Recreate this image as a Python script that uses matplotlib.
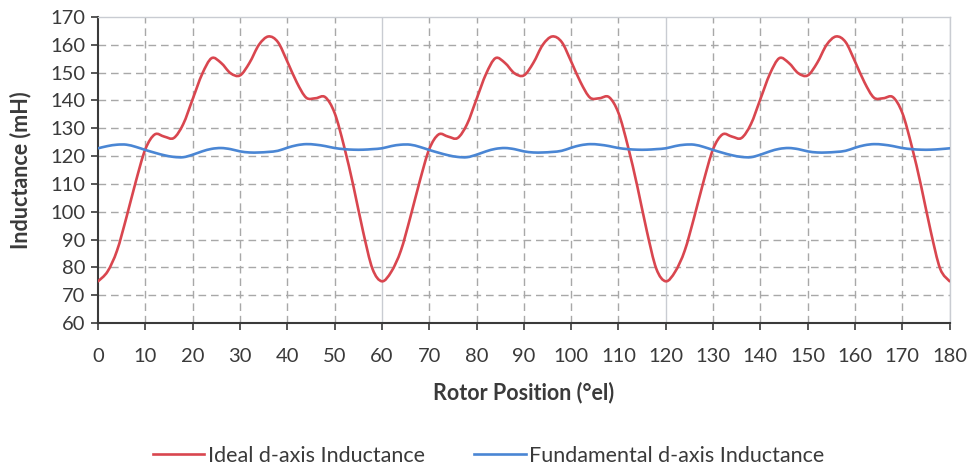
import matplotlib
matplotlib.use("Agg")
import matplotlib.pyplot as plt
from matplotlib.path import Path
from matplotlib.patches import PathPatch
from matplotlib.lines import Line2D

# Rotor position samples (electrical degrees)
rotor_position = list(range(0, 182, 2))

# Ideal d-axis inductance (mH)
ideal_ld = [
    75, 78.5, 86, 98, 111, 122.5, 127.8, 127, 126.5, 131.5,
    140.5, 149.5, 155.2, 153.5, 149.8, 149, 153.5, 160, 163, 161,
    154, 146.5, 141, 140.8, 141.2, 135.5, 123.5, 109, 93, 79.5,
    75, 78.5, 86, 98, 111, 122.5, 127.8, 127, 126.5, 131.5,
    140.5, 149.5, 155.2, 153.5, 149.8, 149, 153.5, 160, 163, 161,
    154, 146.5, 141, 140.8, 141.2, 135.5, 123.5, 109, 93, 79.5,
    75, 78.5, 86, 98, 111, 122.5, 127.8, 127, 126.5, 131.5,
    140.5, 149.5, 155.2, 153.5, 149.8, 149, 153.5, 160, 163, 161,
    154, 146.5, 141, 140.8, 141.2, 135.5, 123.5, 109, 93, 79.5,
    75,
]

# Fundamental d-axis inductance (mH)
fundamental_ld = [
    122.8, 123.6, 124.1, 124.1, 123.3, 122.2, 121.2, 120.3, 119.7, 119.6,
    120.5, 121.7, 122.6, 122.9, 122.5, 121.7, 121.3, 121.3, 121.5, 121.9,
    123.0, 123.9, 124.3, 124.1, 123.6, 122.9, 122.5, 122.3, 122.3, 122.5,
    122.8, 123.6, 124.1, 124.1, 123.3, 122.2, 121.2, 120.3, 119.7, 119.6,
    120.5, 121.7, 122.6, 122.9, 122.5, 121.7, 121.3, 121.3, 121.5, 121.9,
    123.0, 123.9, 124.3, 124.1, 123.6, 122.9, 122.5, 122.3, 122.3, 122.5,
    122.8, 123.6, 124.1, 124.1, 123.3, 122.2, 121.2, 120.3, 119.7, 119.6,
    120.5, 121.7, 122.6, 122.9, 122.5, 121.7, 121.3, 121.3, 121.5, 121.9,
    123.0, 123.9, 124.3, 124.1, 123.6, 122.9, 122.5, 122.3, 122.3, 122.5,
    122.8,
]

x_ticks = list(range(0, 190, 10))
y_ticks = list(range(60, 180, 10))
series_names = ["Ideal d-axis Inductance", "Fundamental d-axis Inductance"]
series_colors = ["#D9464F", "#4A86D4"]

FONT = ["Lato", "DejaVu Sans"]
TEXT_COLOR = "#3A3A3A"
plt.rcParams["font.family"] = FONT


def smooth_path(xs, ys):
    """Smoothed line through the points using cubic Bezier segments."""
    n = len(xs)
    verts = [(xs[0], ys[0])]
    codes = [Path.MOVETO]
    for i in range(n - 1):
        x0, y0 = (xs[i - 1], ys[i - 1]) if i > 0 else (xs[i], ys[i])
        x1, y1 = xs[i], ys[i]
        x2, y2 = xs[i + 1], ys[i + 1]
        x3, y3 = (xs[i + 2], ys[i + 2]) if i + 2 < n else (x2, y2)
        c1 = (x1 + (x2 - x0) / 6.0, y1 + (y2 - y0) / 6.0)
        c2 = (x2 - (x3 - x1) / 6.0, y2 - (y3 - y1) / 6.0)
        verts += [c1, c2, (x2, y2)]
        codes += [Path.CURVE4] * 3
    return Path(verts, codes)


fig = plt.figure(figsize=(9.71, 4.68), dpi=100)
ax = fig.add_axes([0.101, 0.3098, 0.877, 0.6539])
ax.set_xlim(0, 180)
ax.set_ylim(60, 170)

# Gridlines: dashed, with solid separators every 60 degrees
for yv in y_ticks[1:-1]:
    ax.axhline(yv, color="#A8A8A8", lw=1.0, ls=(0, (5.5, 3.5)), zorder=1)
for xv in x_ticks[1:]:
    if xv % 60 == 0:
        ax.axvline(xv, color="#C9CCD2", lw=1.0, zorder=1)
    else:
        ax.axvline(xv, color="#A8A8A8", lw=1.0, ls=(0, (5.5, 3.5)), zorder=1)

for ys, color in zip([ideal_ld, fundamental_ld], series_colors):
    patch = PathPatch(smooth_path(rotor_position, ys), facecolor="none",
                      edgecolor=color, lw=1.9, zorder=3, capstyle="round",
                      joinstyle="round")
    ax.add_patch(patch)

ax.spines["top"].set_color("#C9CCD2")
ax.spines["right"].set_color("#C9CCD2")
ax.spines["top"].set_linewidth(1.0)
ax.spines["right"].set_linewidth(1.0)
ax.spines["left"].set_color("#3A3A3A")
ax.spines["bottom"].set_color("#3A3A3A")
ax.spines["left"].set_linewidth(1.5)
ax.spines["bottom"].set_linewidth(1.5)

ax.set_xticks(x_ticks)
ax.set_yticks(y_ticks)
ax.tick_params(axis="both", direction="out", length=5, width=1.2,
               color="#3A3A3A", labelsize=14.5, labelcolor=TEXT_COLOR)
ax.tick_params(axis="x", pad=13)
ax.tick_params(axis="y", pad=4)

ax.set_xlabel("Rotor Position (°el)", fontsize=15.5, fontweight="bold",
              color=TEXT_COLOR, labelpad=12)
ax.set_ylabel("Inductance (mH)", fontsize=15.5, fontweight="bold",
              color=TEXT_COLOR, labelpad=14)

handles = [Line2D([], [], color=c, lw=1.9) for c in series_colors]
fig.legend(handles, series_names, loc="center", bbox_to_anchor=(0.503, 0.026),
           ncol=2, frameon=False, fontsize=15.5, handlelength=2.4,
           handletextpad=0.15, columnspacing=2.3, labelcolor=TEXT_COLOR)

fig.savefig("out.png", dpi=100, facecolor="white")
